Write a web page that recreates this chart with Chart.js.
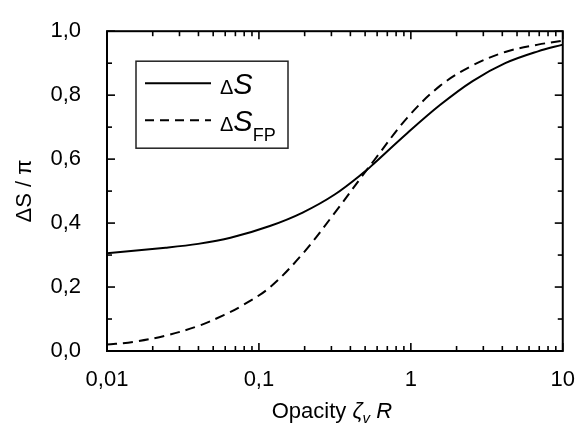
<!DOCTYPE html>
<html><head><meta charset="utf-8">
<script src="https://cdn.jsdelivr.net/npm/chart.js@4"></script>
<style>html,body{margin:0;padding:0;background:#fff}</style>
</head><body>
<canvas id="c" width="583" height="436" style="display:block"></canvas>
<script>
// ---- data ----
const xSolid = [0.01, 0.0243, 0.0398, 0.065, 0.118, 0.194, 0.319, 0.51, 0.577, 0.946, 1.555, 2.55, 4.18, 6.87, 10];
const ySolid = [0.306, 0.323, 0.335, 0.354, 0.391, 0.433, 0.491, 0.565, 0.588, 0.681, 0.769, 0.844, 0.900, 0.937, 0.958];
const xDashed = [0.01, 0.0148, 0.0243, 0.0398, 0.0592, 0.0758, 0.118, 0.194, 0.319, 0.51, 0.577, 0.946, 1.555, 2.55, 4.18, 6.87, 10];
const yDashed = [0.020, 0.028, 0.048, 0.078, 0.113, 0.139, 0.199, 0.304, 0.435, 0.565, 0.598, 0.729, 0.829, 0.893, 0.935, 0.958, 0.970];

const xTickValues = [0.01, 0.1, 1, 10];
const xTickLabels = ['0,01', '0,1', '1', '10'];
const xMinorTicks = [0.02,0.03,0.04,0.05,0.06,0.07,0.08,0.09,0.2,0.3,0.4,0.5,0.6,0.7,0.8,0.9,2,3,4,5,6,7,8,9];
const yTickValues = [0, 0.2, 0.4, 0.6, 0.8, 1.0];
const yTickLabels = ['0,0', '0,2', '0,4', '0,6', '0,8', '1,0'];
const yMinorTicks = [0.1, 0.3, 0.5, 0.7, 0.9];

const FONT = '"Liberation Sans", Arial, Helvetica, sans-serif';

const bg = {
  id: 'bg',
  beforeDraw(chart) {
    const ctx = chart.ctx;
    ctx.save(); ctx.fillStyle = '#fff'; ctx.fillRect(0, 0, chart.width, chart.height); ctx.restore();
  }
};

const frameTicks = {
  id: 'frameTicks',
  afterDatasetsDraw(chart) {
    const { ctx, chartArea: a, scales: { x, y } } = chart;
    ctx.save();
    ctx.strokeStyle = '#000';
    ctx.lineWidth = 1.6;
    const seg = (x1, y1, x2, y2) => { ctx.beginPath(); ctx.moveTo(x1, y1); ctx.lineTo(x2, y2); ctx.stroke(); };
    xTickValues.forEach(v => { const p = x.getPixelForValue(v); seg(p, a.bottom, p, a.bottom - 8); seg(p, a.top, p, a.top + 8); });
    xMinorTicks.forEach(v => { const p = x.getPixelForValue(v); seg(p, a.bottom, p, a.bottom - 5); seg(p, a.top, p, a.top + 5); });
    yTickValues.forEach(v => { const p = y.getPixelForValue(v); seg(a.left, p, a.left + 8, p); seg(a.right, p, a.right - 8, p); });
    yMinorTicks.forEach(v => { const p = y.getPixelForValue(v); seg(a.left, p, a.left + 5, p); seg(a.right, p, a.right - 5, p); });
    ctx.lineWidth = 2;
    ctx.strokeRect(a.left, a.top, a.right - a.left, a.bottom - a.top);

    // legend
    const lx = a.left + 29, ly = a.top + 30, lw = 152, lh = 87;
    ctx.lineWidth = 1.5;
    ctx.strokeStyle = '#222';
    ctx.strokeRect(lx, ly, lw, lh);
    ctx.strokeStyle = '#000';
    ctx.lineWidth = 2;
    seg(lx + 9, ly + 22, lx + 75, ly + 22);
    ctx.setLineDash([9, 6]);
    seg(lx + 9, ly + 59, lx + 75, ly + 59);
    ctx.setLineDash([]);
    ctx.fillStyle = '#000';
    ctx.textBaseline = 'alphabetic';
    ctx.textAlign = 'left';
    const drawDS = (bx, by) => {
      ctx.font = '20px ' + FONT;
      ctx.fillText('\u0394', bx, by);
      const w = ctx.measureText('\u0394').width;
      ctx.font = 'italic 29px ' + FONT;
      ctx.fillText('S', bx + w, by);
      return bx + w + ctx.measureText('S').width;
    };
    drawDS(lx + 84, ly + 33);
    const e = drawDS(lx + 84, ly + 70);
    ctx.font = '18px ' + FONT;
    ctx.fillText('FP', e, ly + 80);

    // axis titles
    ctx.font = '22px ' + FONT;
    ctx.save();
    ctx.translate(31, (a.top + a.bottom) / 2);
    ctx.rotate(-Math.PI / 2);
    ctx.textAlign = 'center';
    ctx.fillText('\u0394S / \u03c0', 0, 0);
    ctx.restore();

    const parts = [
      ['Opacity ', '22px ' + FONT, 0],
      ['\u03b6', 'italic 22px ' + FONT, 0],
      ['v', 'italic 15px ' + FONT, 5],
      [' R', 'italic 22px ' + FONT, 0]
    ];
    let tw = 0;
    parts.forEach(p => { ctx.font = p[1]; tw += ctx.measureText(p[0]).width; });
    let cx = (a.left + a.right) / 2 - 3 - tw / 2;
    const base = 418;
    parts.forEach(p => { ctx.font = p[1]; ctx.fillText(p[0], cx, base + p[2]); cx += ctx.measureText(p[0]).width; });
    ctx.restore();
  }
};

new Chart(document.getElementById('c'), {
  type: 'scatter',
  data: {
    datasets: [
      { label: 'ΔS', data: xSolid.map((v, i) => ({ x: v, y: ySolid[i] })), showLine: true, borderColor: '#000', borderWidth: 2, pointRadius: 0, tension: 0.35, fill: false },
      { label: 'ΔS_FP', data: xDashed.map((v, i) => ({ x: v, y: yDashed[i] })), showLine: true, borderColor: '#000', borderWidth: 2, borderDash: [10, 6], pointRadius: 0, tension: 0.35, fill: false }
    ]
  },
  options: {
    responsive: false,
    animation: false,
    events: [],
    layout: { padding: { top: 19, right: 11, left: 0, bottom: 0 } },
    plugins: { legend: { display: false }, tooltip: { enabled: false }, title: { display: false } },
    scales: {
      x: {
        type: 'logarithmic', min: 0.01, max: 10,
        afterBuildTicks: s => { s.ticks = xTickValues.map(v => ({ value: v })); },
        afterFit: s => { s.height = 85; },
        grid: { display: false }, border: { display: false },
        ticks: { callback: (v, i) => xTickLabels[i], font: { size: 22, family: FONT }, color: '#000', padding: 8, maxRotation: 0, autoSkip: false }
      },
      y: {
        type: 'linear', min: 0, max: 1,
        afterBuildTicks: s => { s.ticks = yTickValues.map(v => ({ value: v })); },
        afterFit: s => { s.width = 107; },
        grid: { display: false }, border: { display: false },
        ticks: { callback: (v, i) => yTickLabels[i], font: { size: 22, family: FONT }, color: '#000', padding: 18, autoSkip: false }
      }
    }
  },
  plugins: [bg, frameTicks]
});
</script>
</body></html>
